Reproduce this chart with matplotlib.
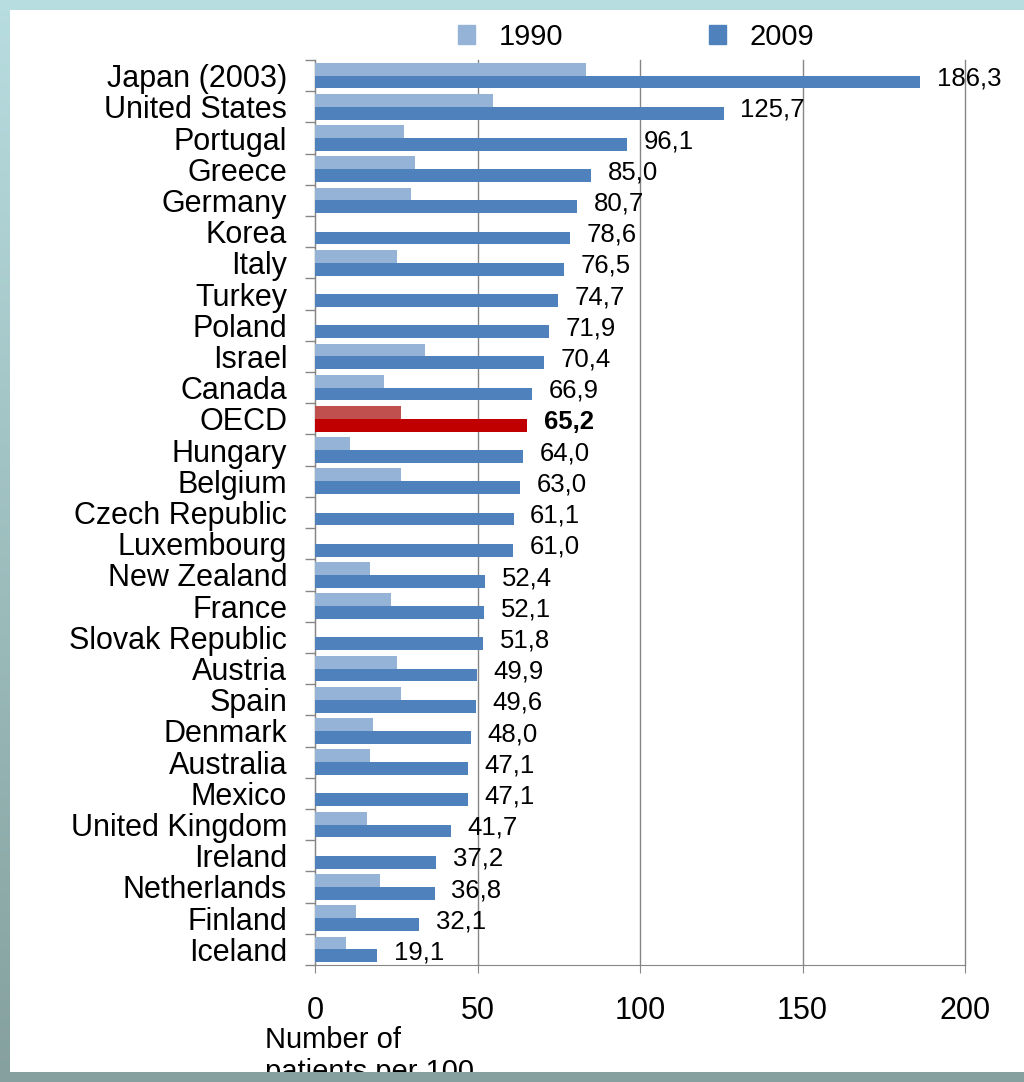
import numpy as np
import matplotlib.pyplot as plt
from matplotlib.patches import Patch
from matplotlib.colors import to_rgb

plt.rcParams['font.family'] = ['Liberation Sans', 'DejaVu Sans']

countries = ['Japan (2003)', 'United States', 'Portugal', 'Greece', 'Germany',
             'Korea', 'Italy', 'Turkey', 'Poland', 'Israel', 'Canada', 'OECD',
             'Hungary', 'Belgium', 'Czech Republic', 'Luxembourg', 'New Zealand',
             'France', 'Slovak Republic', 'Austria', 'Spain', 'Denmark',
             'Australia', 'Mexico', 'United Kingdom', 'Ireland', 'Netherlands',
             'Finland', 'Iceland']
v1990 = [83.4, 54.8, 27.4, 30.8, 29.5, np.nan, 25.2, np.nan, np.nan, 33.8,
         21.2, 26.5, 10.8, 26.5, np.nan, np.nan, 16.9, 23.4, np.nan, 25.2,
         26.5, 17.8, 16.9, np.nan, 16.0, np.nan, 20.0, 12.6, 9.5]
v2009 = [186.3, 125.7, 96.1, 85.0, 80.7, 78.6, 76.5, 74.7, 71.9, 70.4, 66.9,
         65.2, 64.0, 63.0, 61.1, 61.0, 52.4, 52.1, 51.8, 49.9, 49.6, 48.0,
         47.1, 47.1, 41.7, 37.2, 36.8, 32.1, 19.1]
xticks = [0, 50, 100, 150, 200]

c90, c09 = '#95b3d7', '#4f81bd'
oecd90, oecd09 = '#c0504d', '#c00000'

fig = plt.figure(figsize=(10.24, 10.82), dpi=100)
ax = fig.add_axes([315 / 1024, 1 - 965 / 1082, 650 / 1024, 905 / 1082])

y = np.arange(len(countries))
h = 0.41
col90 = [oecd90 if c == 'OECD' else c90 for c in countries]
col09 = [oecd09 if c == 'OECD' else c09 for c in countries]
ax.barh(y - h / 2, np.nan_to_num(v1990), height=h, color=col90, zorder=3)
ax.barh(y + h / 2, v2009, height=h, color=col09, zorder=3)

for i, (c, v) in enumerate(zip(countries, v2009)):
    txt = f'{v:.1f}'.replace('.', ',')
    bold = c == 'OECD'
    ax.annotate(txt, (v, i + 0.1), xytext=(12, 0), textcoords='offset points',
                va='center', ha='left', fontsize=18.5,
                fontweight='bold' if bold else 'normal', zorder=4)

ax.set_xlim(0, 200)
ax.set_ylim(len(countries) - 0.5, -0.5)
ax.set_xticks(xticks)
ax.set_xticklabels([str(t) for t in xticks], fontsize=22)
ax.set_yticks(y)
ax.set_yticklabels(countries, fontsize=22)
ax.set_yticks(np.arange(-0.5, len(countries), 1), minor=True)
ax.tick_params(axis='y', which='major', length=0, pad=20)
ax.tick_params(axis='y', which='minor', length=7, color='#868686', width=1)
ax.tick_params(axis='x', length=6, color='#868686', pad=16)
ax.grid(axis='x', color='#868686', linewidth=1, zorder=0)
for gl in ax.get_xgridlines():
    gl.set_clip_on(False)
for s in ['top', 'right']:
    ax.spines[s].set_visible(False)
for s in ['left', 'bottom']:
    ax.spines[s].set_color('#868686')

fig.text(265 / 1024, 1 - 1026 / 1082, 'Number of\npatients per 100',
         fontsize=21, ha='left', va='top', linespacing=1.2)

handles = [Patch(color=c90, label='1990'), Patch(color=c09, label='2009')]
fig.legend(handles=handles, loc='center', bbox_to_anchor=(636 / 1024, 1 - 37 / 1082),
           ncol=2, frameon=False, fontsize=21, handlelength=0.6, handleheight=0.6,
           handletextpad=0.8, columnspacing=5.0)

# slide frame drawn over everything
H, W = 1082, 1024
frame = np.zeros((H, W, 4))
teal = np.array(to_rgb('#b8dde0'))
grey = np.array(to_rgb('#85a09e'))
t = np.linspace(0, 1, H)[:, None, None]
frame[:, :10, :3] = (1 - t) * teal + t * grey
frame[:, :10, 3] = 1
frame[:10, :, :3] = teal
frame[:10, :, 3] = 1
frame[1072:, :, :3] = grey
frame[1072:, :, 3] = 1
fax = fig.add_axes([0, 0, 1, 1], zorder=10)
fax.imshow(frame, aspect='auto', interpolation='nearest')
fax.axis('off')

fig.savefig('out.png', dpi=100)
